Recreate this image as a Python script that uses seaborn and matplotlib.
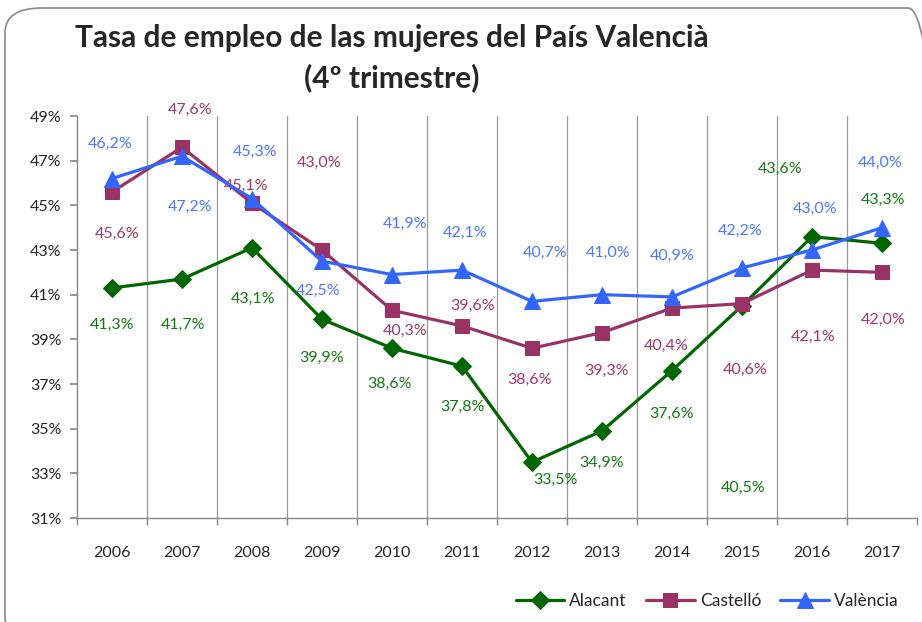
import pandas as pd
import matplotlib.pyplot as plt
import seaborn as sns
from matplotlib.patches import FancyBboxPatch

years = [2006, 2007, 2008, 2009, 2010, 2011, 2012, 2013, 2014, 2015, 2016, 2017]
alacant = [41.3, 41.7, 43.1, 39.9, 38.6, 37.8, 33.5, 34.9, 37.6, 40.5, 43.6, 43.3]
castello = [45.6, 47.6, 45.1, 43.0, 40.3, 39.6, 38.6, 39.3, 40.4, 40.6, 42.1, 42.0]
valencia = [46.2, 47.2, 45.3, 42.5, 41.9, 42.1, 40.7, 41.0, 40.9, 42.2, 43.0, 44.0]
series_names = ["Alacant", "Castelló", "València"]
y_ticks = [31, 33, 35, 37, 39, 41, 43, 45, 47, 49]

df = pd.DataFrame({
    "year": years * 3,
    "value": alacant + castello + valencia,
    "provincia": [n for n in series_names for _ in years],
})

line_colors = {"Alacant": "#006600", "Castelló": "#993366", "València": "#3366FF"}
label_colors = {"Alacant": "#127A12", "Castelló": "#A0386A", "València": "#4A78FF"}
markers = {"Alacant": "D", "Castelló": "s", "València": "^"}
msizes = {"Alacant": 9, "Castelló": 10.5, "València": 11}

# label offsets in pixels (dx, dy downwards positive)
offsets = {
    "Alacant": [(0, 37), (1, 46), (1, 51), (0, 39), (-2, 36), (0, 41), (23, 18), (0, 32), (0, 43), (1, 182), (-32, -68), (1, -43)],
    "Castelló": [(5, 42), (8, -37), (-6, -17), (-3, -87), (13, 21), (11, -20), (-2, 32), (5, 38), (-6, 38), (3, 66), (1, 67), (1, 48)],
    "València": [(-2, -35), (8, 51), (3, -47), (-4, 30), (13, -51), (3, -37), (13, -48), (6, -42), (0, -41), (-2, -37), (3, -41), (-2, -65)],
}

sns.set_theme(style="white")
plt.rcParams["font.family"] = ["Lato", "DejaVu Sans"]

fig = plt.figure(figsize=(9.22, 6.22), dpi=100)
ax = fig.add_axes([77 / 922, 1 - 518 / 622, 840 / 922, 402 / 622])

for name in series_names:
    sub = df[df["provincia"] == name]
    sns.lineplot(data=sub, x="year", y="value", color=line_colors[name], marker=markers[name],
                 markersize=msizes[name], markeredgecolor=line_colors[name], linewidth=2.3,
                 label=name, ax=ax, zorder=3)
    for (x, y), (dx, dy) in zip(zip(sub["year"], sub["value"]), offsets[name]):
        ax.annotate(f"{y:.1f}%".replace(".", ","), (x, y), xytext=(dx, -dy),
                    textcoords="offset pixels", ha="center", va="center",
                    fontsize=11.5, color=label_colors[name])

ax.set_xlim(2005.5, 2017.5)
ax.set_ylim(31, 49)
ax.set_yticks(y_ticks)
ax.set_yticklabels([f"{t}%" for t in y_ticks], fontsize=11.5)
ax.set_xticks(years)
ax.set_xticklabels([str(y) for y in years], fontsize=11.5)
bounds = [years[0] - 0.5 + b for b in range(len(years) + 1)]
for b in bounds[1:-1]:
    ax.axvline(b, color="#999999", linewidth=0.9, zorder=1)
ax.set_xticks(bounds, minor=True)
ax.tick_params(axis="x", which="minor", length=5, color="#888888", bottom=True, direction="out")
ax.tick_params(axis="y", which="major", length=5, color="#888888", left=True, pad=6)
ax.tick_params(axis="x", which="major", length=0, pad=20)
ax.set_xlabel("")
ax.set_ylabel("")
for s in ["top", "right"]:
    ax.spines[s].set_visible(False)
for s in ["left", "bottom"]:
    ax.spines[s].set_color("#888888")
    ax.spines[s].set_linewidth(1)

ax.legend(loc="center left", bbox_to_anchor=(500 / 922, 21 / 622), bbox_transform=fig.transFigure,
          ncol=3, frameon=False, fontsize=12.5, handlelength=2.8, columnspacing=1.1, handletextpad=0.3)

fig.text(392 / 922, 1 - 38 / 622, "Tasa de empleo de las mujeres del País Valencià",
         ha="center", va="center", fontsize=21.5, fontweight="bold")
fig.text(392 / 922, 1 - 78 / 622, "(4º trimestre)", ha="center", va="center",
         fontsize=21.5, fontweight="bold")

frame = FancyBboxPatch((5 / 922, -20 / 622), 940 / 922, 634 / 622,
                       boxstyle="round,pad=0,rounding_size=0.04", transform=fig.transFigure,
                       facecolor="none", edgecolor="#888888", linewidth=1.2)
fig.patches.append(frame)

plt.savefig("out.png", dpi=100)
